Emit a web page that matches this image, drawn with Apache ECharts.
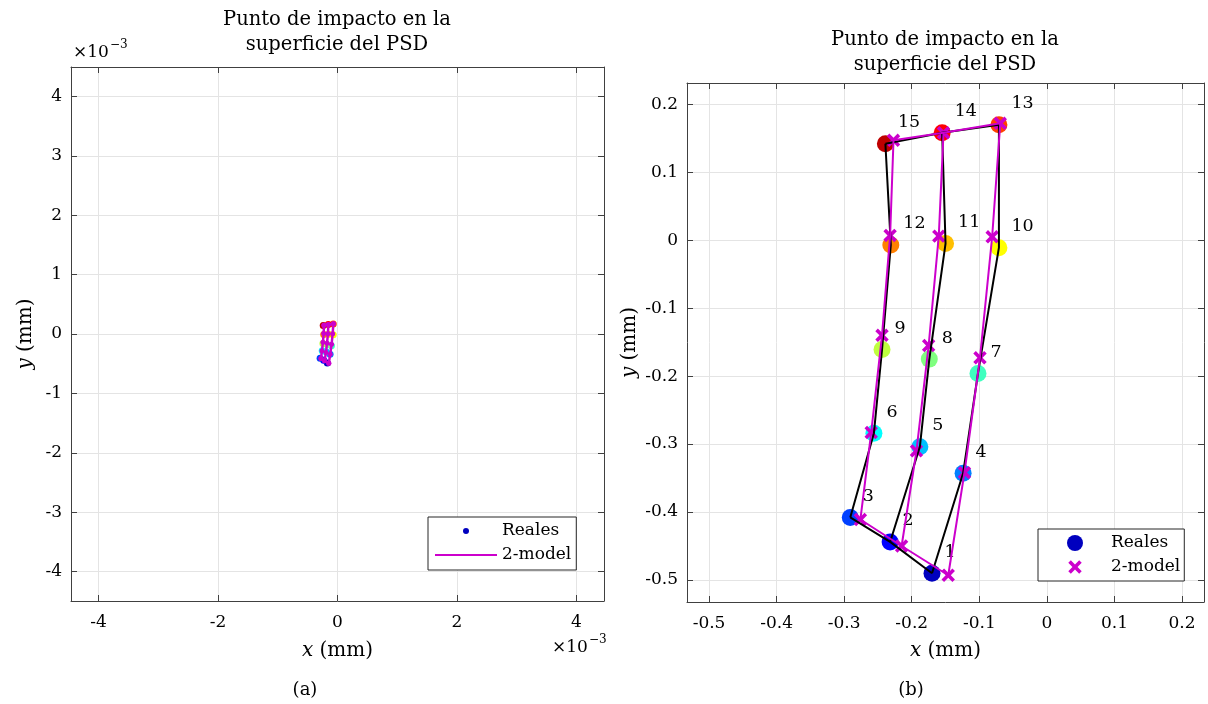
<!DOCTYPE html>
<html>
<head>
<meta charset="utf-8">
<script src="https://cdn.jsdelivr.net/npm/echarts@6/dist/echarts.min.js"></script>
<style>
  html, body { margin: 0; padding: 0; background: #ffffff; }
  #chart { width: 1208px; height: 704px; }
</style>
</head>
<body>
<div id="chart"></div>
<script>
// Impact points on the PSD surface, numbered 1..15 (mm)
const pointIds = [1, 2, 3, 4, 5, 6, 7, 8, 9, 10, 11, 12, 13, 14, 15];
const realX = [-0.170, -0.232, -0.291, -0.124, -0.188, -0.256, -0.102, -0.174, -0.244, -0.071, -0.150, -0.231, -0.071, -0.155, -0.239];
const realY = [-0.490, -0.444, -0.408, -0.343, -0.304, -0.284, -0.196, -0.175, -0.161, -0.011, -0.005, -0.007, 0.170, 0.158, 0.142];
// Two-parameter model prediction for the same points (mm)
const modelX = [-0.146, -0.215, -0.276, -0.122, -0.193, -0.260, -0.099, -0.175, -0.244, -0.081, -0.160, -0.232, -0.069, -0.153, -0.227];
const modelY = [-0.493, -0.450, -0.411, -0.342, -0.310, -0.283, -0.173, -0.155, -0.140, 0.005, 0.006, 0.007, 0.172, 0.158, 0.147];
// One colour per point (jet colormap, 15 levels)
const pointColors = ['#0000BF', '#0000FF', '#0040FF', '#0080FF', '#00BFFF', '#00FFFF', '#40FFBF', '#80FF80',
                     '#BFFF40', '#FFFF00', '#FFBF00', '#FF8000', '#FF4000', '#FF0000', '#BF0000'];
// Point sequences joined by lines: bottom row, top row and the three columns
const gridPaths = [[1, 2, 3], [13, 14, 15], [1, 4, 7, 10, 13], [2, 5, 8, 11, 14], [3, 6, 9, 12, 15]];
// Panel (a) shows the same points with the axes in units of 1e-3 mm
const panelAScale = 1e-3;

const FONT = 'DejaVu Serif';
const INK = '#000000';
const AXIS_INK = '#404040';
const GRID_INK = '#e4e4e4';
const MAGENTA = '#cc00cc';
const TITLE = 'Punto de impacto en la\nsuperficie del PSD';
// Thick "x" marker; the two tiny corner triangles pad its bounding box
const CROSS = 'path://M0,0L0.01,0L0,0.01Z M100,100L99.99,100L100,99.99Z ' +
  'M8,24L24,8L50,34L76,8L92,24L66,50L92,76L76,92L50,66L24,92L8,76L34,50Z';

const chart = echarts.init(document.getElementById('chart'), null, { renderer: 'canvas' });

function axis(dim, gridIndex, position, min, max, step, fmt, showLabels, name, nameGap) {
  const a = {
    type: 'value',
    gridIndex: gridIndex,
    position: position,
    min: min,
    max: max,
    minInterval: step,
    maxInterval: step,
    axisLine: { show: true, onZero: false, lineStyle: { color: AXIS_INK, width: 1 } },
    axisTick: { show: true, inside: true, length: 6, lineStyle: { color: AXIS_INK, width: 1 } },
    splitLine: { show: showLabels, lineStyle: { color: GRID_INK, width: 1 } },
    axisLabel: {
      show: showLabels,
      showMinLabel: false,
      showMaxLabel: false,
      margin: dim === 'x' ? 13 : 9,
      color: INK,
      fontFamily: FONT,
      fontSize: 17,
      formatter: fmt
    }
  };
  if (name) {
    a.name = name;
    a.nameLocation = 'middle';
    a.nameGap = nameGap;
    a.nameTextStyle = {
      color: INK, fontFamily: FONT, fontSize: 20,
      rich: { i: { fontStyle: 'italic', fontFamily: FONT, fontSize: 20, color: INK } }
    };
  }
  return a;
}

const fmtA = v => String(Math.round(v / panelAScale));
const fmtB = v => (Math.abs(v) < 1e-9 ? '0' : String(parseFloat(v.toFixed(1))));

const XA = [-4.46e-3, 4.46e-3], YA = [-4.495e-3, 4.495e-3];
const XB = [-0.5326, 0.2325], YB = [-0.5324, 0.2313];

const xAxes = [
  axis('x', 0, 'bottom', XA[0], XA[1], 2e-3, fmtA, true, '{i|x} (mm)', 39.5),
  axis('x', 0, 'top', XA[0], XA[1], 2e-3, fmtA, false),
  axis('x', 1, 'bottom', XB[0], XB[1], 0.1, fmtB, true, '{i|x} (mm)', 38.5),
  axis('x', 1, 'top', XB[0], XB[1], 0.1, fmtB, false)
];
const yAxes = [
  axis('y', 0, 'left', YA[0], YA[1], 1e-3, fmtA, true, '{i|y} (mm)', 35.5),
  axis('y', 0, 'right', YA[0], YA[1], 1e-3, fmtA, false),
  axis('y', 1, 'left', YB[0], YB[1], 0.1, fmtB, true, '{i|y} (mm)', 47.5),
  axis('y', 1, 'right', YB[0], YB[1], 0.1, fmtB, false)
];

function pathLine(xs, ys, path, scale, axisIdx, color, width, name) {
  return {
    type: 'line',
    name: name || '',
    xAxisIndex: axisIdx, yAxisIndex: axisIdx,
    data: path.map(k => [xs[k - 1] * scale, ys[k - 1] * scale]),
    symbol: 'none',
    lineStyle: { color: color, width: width },
    itemStyle: { color: color, opacity: 1 },
    silent: true,
    animation: false
  };
}

function pointData(xs, ys, scale) {
  return xs.map((x, i) => ({ value: [x * scale, ys[i] * scale], itemStyle: { color: pointColors[i], opacity: 1 } }));
}

const series = [];

// Panel (a)
series.push({
  type: 'scatter', name: 'Reales', xAxisIndex: 0, yAxisIndex: 0,
  data: pointData(realX, realY, panelAScale),
  symbol: 'circle', symbolSize: 7,
  itemStyle: { color: pointColors[0], opacity: 1 },
  animation: false
});
gridPaths.forEach((p, j) => {
  const s = pathLine(modelX, modelY, p, panelAScale, 0, MAGENTA, 2.5, j === 0 ? '2-model' : '');
  s.symbol = 'circle';
  s.symbolSize = 5;
  s.showSymbol = true;
  series.push(s);
});

// Panel (b)
gridPaths.forEach(p => series.push(pathLine(realX, realY, p, 1, 2, '#000000', 2)));
series.push({
  type: 'scatter', name: 'Reales', xAxisIndex: 2, yAxisIndex: 2,
  data: pointData(realX, realY, 1),
  symbol: 'circle', symbolSize: 17,
  itemStyle: { color: pointColors[0], opacity: 1 },
  label: {
    show: true, position: 'right', distance: 0, offset: [4, -21],
    formatter: p => String(pointIds[p.dataIndex]),
    color: INK, fontFamily: FONT, fontSize: 17.5
  },
  animation: false
});
gridPaths.forEach(p => series.push(pathLine(modelX, modelY, p, 1, 2, MAGENTA, 2)));
series.push({
  type: 'scatter', name: '2-model', xAxisIndex: 2, yAxisIndex: 2,
  data: modelX.map((x, i) => [x, modelY[i]]),
  symbol: CROSS, symbolSize: 16,
  itemStyle: { color: MAGENTA, opacity: 1 },
  animation: false
});

function times10(x, y) {
  return [
    { type: 'text', x: x, y: y, style: { text: '×10', fill: INK, font: '17px "DejaVu Serif"', verticalAlign: 'middle', align: 'left' } },
    { type: 'text', x: x + 37, y: y - 8, style: { text: '−3', fill: INK, font: '12px "DejaVu Serif"', verticalAlign: 'middle', align: 'left' } }
  ];
}

const titleStyle = { color: INK, fontFamily: FONT, fontSize: 19.5, fontWeight: 'normal', lineHeight: 25 };

const option = {
  backgroundColor: '#ffffff',
  animation: false,
  title: [
    { text: TITLE, left: 337, top: 7.5, padding: 0, textAlign: 'center', textStyle: titleStyle },
    { text: TITLE, left: 945, top: 27.5, padding: 0, textAlign: 'center', textStyle: titleStyle }
  ],
  grid: [
    { left: 71, top: 67, width: 533, height: 534, containLabel: false },
    { left: 687, top: 83, width: 517, height: 519, containLabel: false }
  ],
  xAxis: xAxes,
  yAxis: yAxes,
  legend: [
    {
      orient: 'vertical', left: 428, top: 517,
      padding: [4, 5, 5, 7], itemGap: 4, itemWidth: 62, itemHeight: 6,
      backgroundColor: '#ffffff', borderColor: '#262626', borderWidth: 1, borderRadius: 0,
      selectedMode: false,
      textStyle: { color: INK, fontFamily: FONT, fontSize: 17, lineHeight: 20 },
      data: [
        { name: 'Reales', icon: 'circle', itemStyle: { color: pointColors[0], opacity: 1 } },
        { name: '2-model', icon: 'path://M0,0H62V2H0Z', itemStyle: { color: MAGENTA, opacity: 1 } }
      ]
    },
    {
      orient: 'vertical', left: 1038, top: 529,
      padding: [4, 4, 4, 29], itemGap: 4, itemWidth: 16, itemHeight: 16,
      backgroundColor: '#ffffff', borderColor: '#262626', borderWidth: 1, borderRadius: 0,
      selectedMode: false,
      textStyle: { color: INK, fontFamily: FONT, fontSize: 17, lineHeight: 20, padding: [0, 0, 0, 23] },
      data: [
        { name: 'Reales', icon: 'circle', itemStyle: { color: pointColors[0], opacity: 1 } },
        { name: '2-model', icon: CROSS, itemStyle: { color: MAGENTA, opacity: 1 } }
      ]
    }
  ],
  graphic: [].concat(
    times10(73, 53),
    times10(552, 648),
    [
      { type: 'text', x: 305, y: 690, style: { text: '(a)', fill: INK, font: '18px "DejaVu Serif"', align: 'center', verticalAlign: 'middle' } },
      { type: 'text', x: 911, y: 690, style: { text: '(b)', fill: INK, font: '18px "DejaVu Serif"', align: 'center', verticalAlign: 'middle' } }
    ]
  ),
  series: series
};

chart.setOption(option);
</script>
</body>
</html>
